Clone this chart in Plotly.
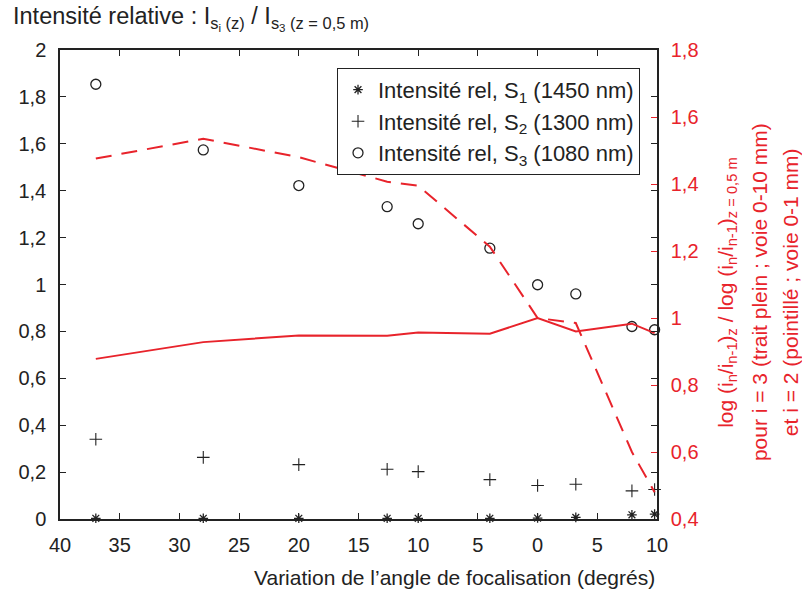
import plotly.graph_objects as go

# ---- data ----
angle = [-37, -28, -20, -12.6, -10, -4, 0, 3.2, 7.9, 9.8]
s1_rel = [0.003, 0.003, 0.003, 0.003, 0.003, 0.003, 0.004, 0.007, 0.018, 0.021]
s2_rel = [0.34, 0.263, 0.232, 0.212, 0.202, 0.168, 0.143, 0.148, 0.12, 0.126]
s3_rel = [1.854, 1.574, 1.422, 1.332, 1.259, 1.155, 0.999, 0.96, 0.821, 0.807]
ratio_i3 = [0.878, 0.928, 0.948, 0.947, 0.957, 0.953, 1.0, 0.96, 0.983, 0.955]   # trait plein
ratio_i2 = [1.476, 1.535, 1.48, 1.407, 1.395, 1.213, 1.0, 0.985, 0.60, 0.48]      # pointillé

x_tickvals = [-40, -35, -30, -25, -20, -15, -10, -5, 0, 5, 10]
x_ticktext = ["40", "35", "30", "25", "20", "15", "10", "5", "0", "5", "10"]
y_tickvals = [0, 0.2, 0.4, 0.6, 0.8, 1, 1.2, 1.4, 1.6, 1.8, 2]
y_ticktext = ["0", "0,2", "0,4", "0,6", "0,8", "1", "1,2", "1,4", "1,6", "1,8", "2"]
y2_tickvals = [0.4, 0.6, 0.8, 1.0, 1.2, 1.4, 1.6, 1.8]
y2_ticktext = ["0,4", "0,6", "0,8", "1", "1,2", "1,4", "1,6", "1,8"]

RED = "#e8232b"
BLACK = "#222222"
FONT = "Liberation Sans, Arial, sans-serif"
TICK_SIZE = 20
TEXT_SIZE = 21

fig = go.Figure()

fig.add_trace(go.Scatter(x=angle, y=ratio_i3, mode="lines", yaxis="y2",
                         line=dict(color=RED, width=2), showlegend=False))
fig.add_trace(go.Scatter(x=angle, y=ratio_i2, mode="lines", yaxis="y2",
                         line=dict(color=RED, width=2, dash="16px,10px"), showlegend=False))

fig.add_trace(go.Scatter(x=angle, y=s1_rel, mode="markers",
                         name="Intensité rel, S<sub>1</sub> (1450 nm)",
                         marker=dict(symbol="asterisk-open", size=8, color=BLACK,
                                     line=dict(color=BLACK, width=1.3)), cliponaxis=False))
fig.add_trace(go.Scatter(x=angle, y=s2_rel, mode="markers",
                         name="Intensité rel, S<sub>2</sub> (1300 nm)",
                         marker=dict(symbol="cross-thin-open", size=9, color=BLACK,
                                     line=dict(color=BLACK, width=1.1)), cliponaxis=False))
fig.add_trace(go.Scatter(x=angle, y=s3_rel, mode="markers",
                         name="Intensité rel, S<sub>3</sub> (1080 nm)",
                         marker=dict(symbol="circle-open", size=10, color=BLACK,
                                     line=dict(color=BLACK, width=1.3)), cliponaxis=False))

axis_common = dict(showgrid=False, zeroline=False, ticks="inside", ticklen=6,
                   tickwidth=1.3, showline=True, linewidth=1.5)

fig.update_layout(
    width=802, height=590,
    margin=dict(l=60, r=145, t=50, b=71),
    paper_bgcolor="white", plot_bgcolor="white",
    font=dict(family=FONT, size=TICK_SIZE, color=BLACK),
    xaxis=dict(range=[-40, 10], tickvals=x_tickvals, ticktext=x_ticktext,
               linecolor=BLACK, tickcolor=BLACK, mirror="ticks",
               ticklabelstandoff=7, **axis_common),
    yaxis=dict(range=[0, 2], tickvals=y_tickvals, ticktext=y_ticktext,
               linecolor=BLACK, tickcolor=BLACK, mirror="ticks",
               ticklabelstandoff=8, **axis_common),
    yaxis2=dict(range=[0.4, 1.8], tickvals=y2_tickvals, ticktext=y2_ticktext,
                overlaying="y", side="right", linecolor=BLACK, tickcolor=RED,
                tickfont=dict(color=RED, size=TICK_SIZE), ticklabelstandoff=8,
                **axis_common),
    legend=dict(x=0.464, y=0.962, xanchor="left", yanchor="top",
                bordercolor=BLACK, borderwidth=1, bgcolor="white",
                font=dict(size=22, color=BLACK), itemwidth=30,
                tracegroupgap=0),
    showlegend=True,
)

fig.add_annotation(text="Intensité relative : I<sub>s<sub>i</sub> (z)</sub> / I<sub>s<sub>3</sub> (z = 0,5 m)</sub>",
                   xref="paper", yref="paper", x=-0.082, y=1.105, xanchor="left", yanchor="top",
                   showarrow=False, font=dict(size=23.5, color=BLACK))
fig.add_annotation(text="Variation de l’angle de focalisation (degrés)",
                   xref="paper", yref="paper", x=1.0, y=-0.125, xanchor="right", yanchor="middle",
                   showarrow=False, font=dict(size=TEXT_SIZE, color=BLACK))

right_titles = [
    "log (i<sub>n</sub>/i<sub>n-1</sub>)<sub>z</sub> / log (i<sub>n</sub>/i<sub>n-1</sub>)<sub>z = 0,5 m</sub>",
    "pour i = 3 (trait plein ; voie 0-10 mm)",
    "et i = 2 (pointillé ; voie 0-1 mm)",
]
right_x = [1.117, 1.171, 1.223]
for t, xx in zip(right_titles, right_x):
    fig.add_annotation(text=t, xref="paper", yref="paper", x=xx, y=0.484,
                       xanchor="center", yanchor="middle", textangle=-90,
                       showarrow=False, font=dict(size=TEXT_SIZE, color=RED))

fig.write_html("out.html")
